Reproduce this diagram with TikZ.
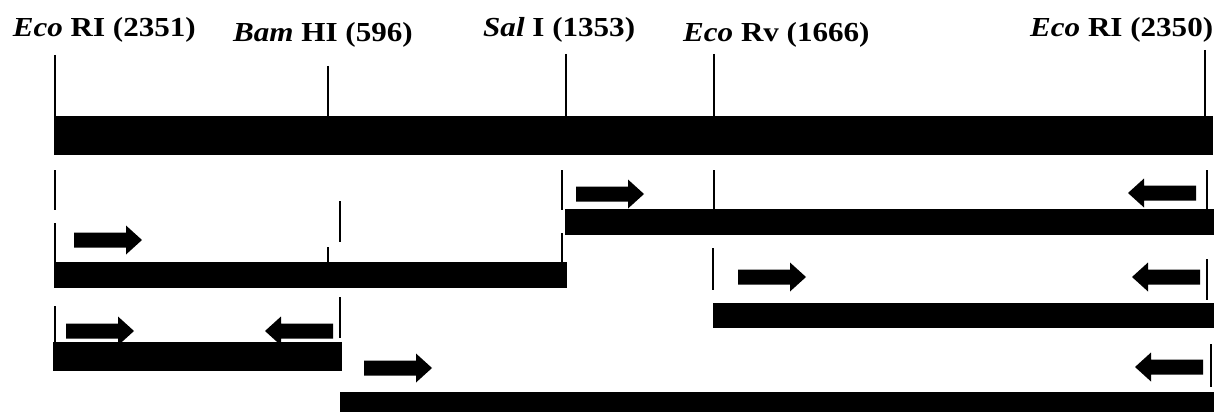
\documentclass[tikz,border=0pt]{standalone}
\usepackage{fontspec}
\setmainfont{Liberation Serif}
\begin{document}
\begin{tikzpicture}[x=1pt, y=-1pt,
  tick/.style={line width=1.3pt, black},
  fragment/.style={fill=black},
  site/.style={anchor=base west, inner sep=0pt,
    font=\fontsize{27.5}{30}\selectfont\bfseries},
  fwd/.pic={\fill (0,-7.5) -- (52,-7.5) -- (52,-14.5) -- (68,0) -- (52,14.5) -- (52,7.5) -- (0,7.5) -- cycle;},
  rev/.pic={\fill (0,-7.5) -- (-52,-7.5) -- (-52,-14.5) -- (-68,0) -- (-52,14.5) -- (-52,7.5) -- (0,7.5) -- cycle;}]
\useasboundingbox (0,0) rectangle (1223,412);

% restriction site labels
\node[site] (lEcoA) at (12.7,36.8) {\scalebox{1.13}[1]{\textit{Eco} RI (2351)}};
\node[site] (lBam)  at (233,41.8)  {\scalebox{1.13}[1]{\textit{Bam} HI (596)}};
\node[site] (lSal)  at (483,36.8)  {\scalebox{1.13}[1]{\textit{Sal} I (1353)}};
\node[site] (lEcoV) at (683,41.8)  {\scalebox{1.13}[1]{\textit{Eco} Rv (1666)}};
\node[site] (lEcoB) at (1030,36.8) {\scalebox{1.13}[1]{\textit{Eco} RI (2350)}};

% full-length insert with site markers
\fill[fragment] (54,116) rectangle (1213,155);
\draw[tick] (55,55) -- (55,116);
\draw[tick] (328,66) -- (328,116);
\draw[tick] (566,54) -- (566,116);
\draw[tick] (714,54) -- (714,116);
\draw[tick] (1205,50) -- (1205,116);

% Sal I -- Eco RI fragment
\draw[tick] (55,170) -- (55,210);
\draw[tick] (562,170) -- (562,210);
\draw[tick] (714,170) -- (714,209);
\draw[tick] (1207,170) -- (1207,209);
\pic at (576,194) {fwd};
\pic at (1196,193) {rev};
\fill[fragment] (565,209) rectangle (1214,235);

% Eco RI -- Sal I fragment
\draw[tick] (55,223) -- (55,262);
\draw[tick] (340,201) -- (340,242);
\draw[tick] (328,247) -- (328,262);
\draw[tick] (562,233) -- (562,262);
\pic at (74,240) {fwd};
\fill[fragment] (54,262) rectangle (567,288);

% Eco Rv -- Eco RI fragment
\draw[tick] (713,248) -- (713,290);
\draw[tick] (1207,259) -- (1207,300);
\pic at (738,277) {fwd};
\pic at (1200,277) {rev};
\fill[fragment] (713,303) rectangle (1214,328);

% Eco RI -- Bam HI fragment
\draw[tick] (55,306) -- (55,342);
\draw[tick] (340,297) -- (340,338);
\pic at (66,331) {fwd};
\pic at (333,331) {rev};
\fill[fragment] (53,342) rectangle (342,371);

% Bam HI -- Eco RI fragment
\draw[tick] (1211,344) -- (1211,387);
\pic at (364,368) {fwd};
\pic at (1203,367) {rev};
\fill[fragment] (340,392) rectangle (1214,412);
\end{tikzpicture}
\end{document}
